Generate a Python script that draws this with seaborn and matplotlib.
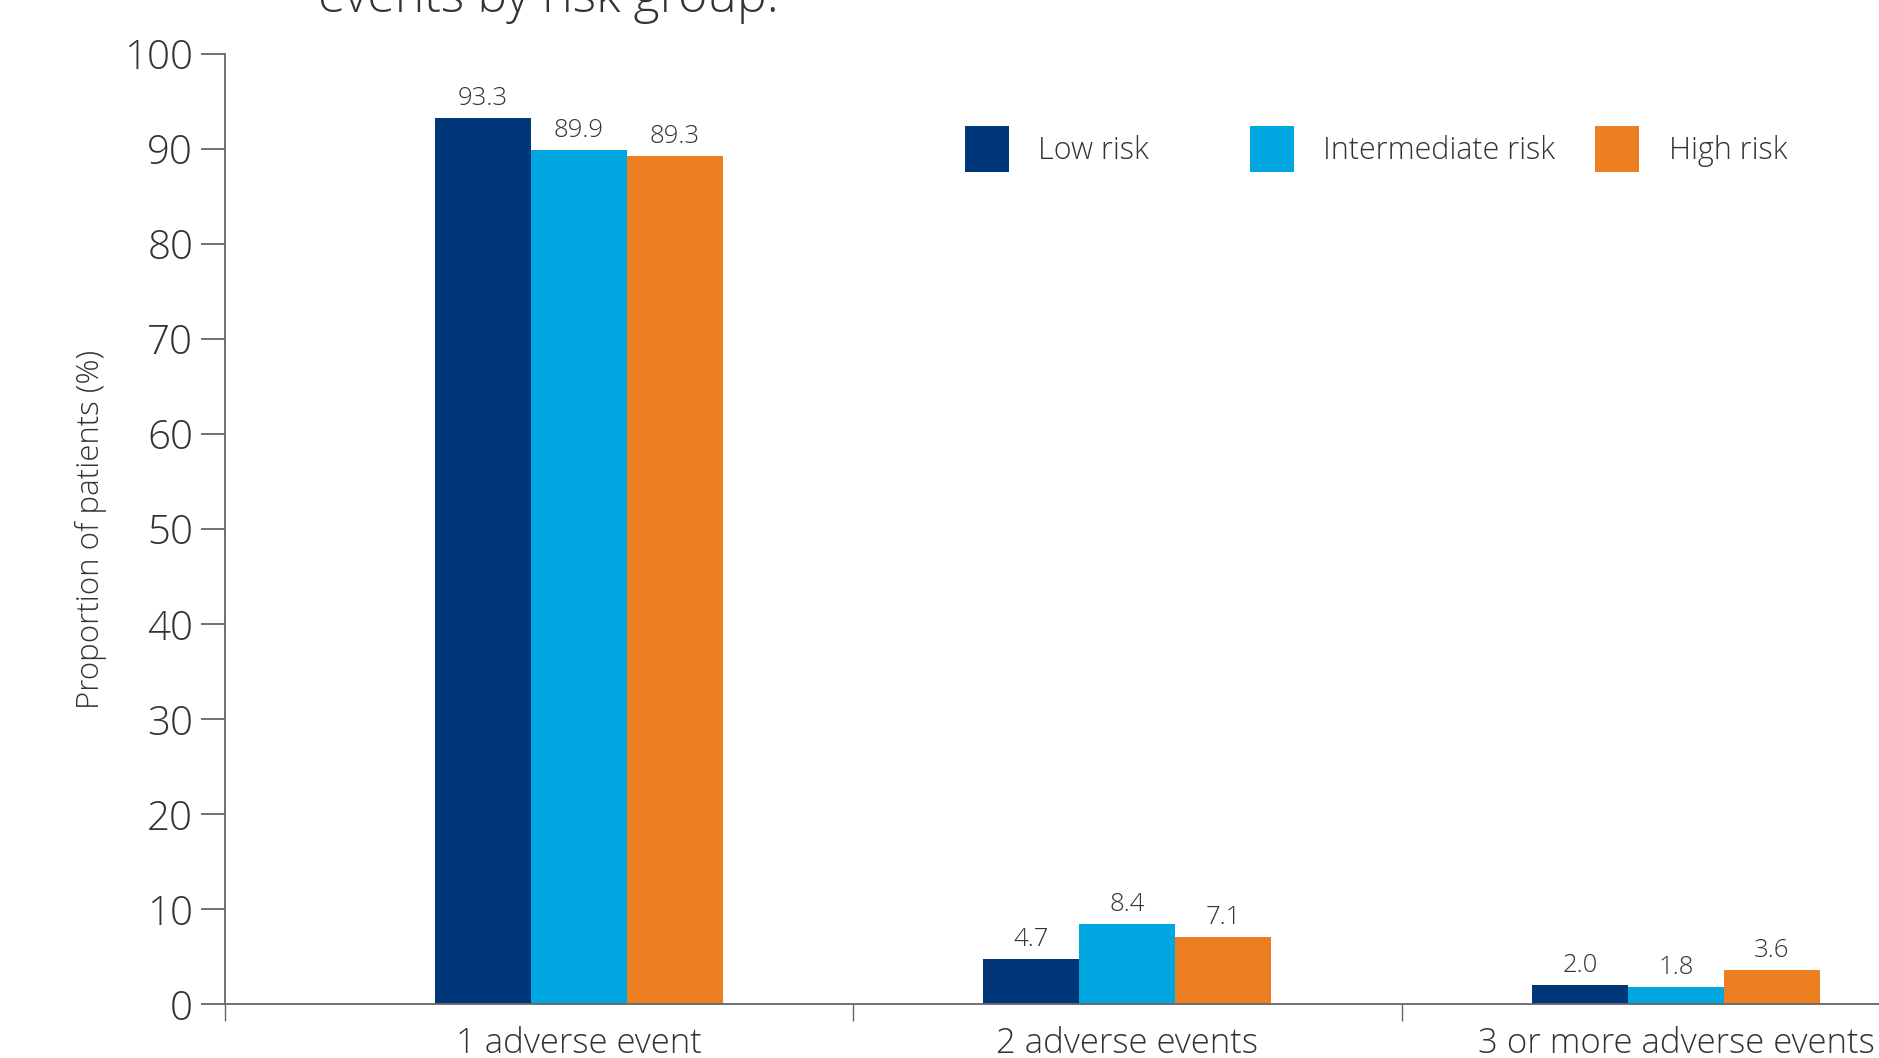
import matplotlib
matplotlib.use("Agg")
import matplotlib.pyplot as plt
from matplotlib.legend import Legend
import seaborn as sns
import pandas as pd

categories = ["1 adverse event", "2 adverse events", "3 or more adverse events"]
groups = ["Low risk", "Intermediate risk", "High risk"]
low_risk = [93.3, 4.7, 2.0]
intermediate_risk = [89.9, 8.4, 1.8]
high_risk = [89.3, 7.1, 3.6]
colors = ["#003778", "#00A6E0", "#EB7F22"]
yticks = [0, 10, 20, 30, 40, 50, 60, 70, 80, 90, 100]

rows = []
for g, vals in zip(groups, [low_risk, intermediate_risk, high_risk]):
    for c, v in zip(categories, vals):
        rows.append({"Category": c, "Group": g, "Value": v})
df = pd.DataFrame(rows)

sns.set_style("white")
plt.rcParams["font.family"] = ["Open Sans", "DejaVu Sans"]
plt.rcParams["font.weight"] = "light"
text_color = "#333333"
spine_color = "#666666"

fig = plt.figure(figsize=(18.79, 10.58), dpi=100)
ax = fig.add_axes([0.1198, 0.051, 0.8802, 0.898])

sns.barplot(data=df, x="Category", y="Value", hue="Group", order=categories,
            hue_order=groups, palette=colors, width=0.525, saturation=1,
            edgecolor="none", linewidth=0, ax=ax)

for cont in ax.containers:
    ax.bar_label(cont, fmt="%.1f", padding=5, fontsize=18.5, color=text_color, fontweight="light")

ax.set_ylim(0, 100)
ax.set_xlim(-0.645, 2.37)
ax.set_yticks(yticks)
ax.set_yticklabels([str(t) for t in yticks], fontsize=29, color=text_color, fontweight="light")
ax.tick_params(axis="y", direction="out", length=17, width=1.3, color=spine_color, pad=6, left=True)
ax.set_xticks(range(len(categories)))
ax.set_xticklabels(categories, fontsize=25, color=text_color, fontweight="light")
ax.tick_params(axis="x", which="major", length=0, pad=16)
ax.set_xticks([-0.645, 0.5, 1.5], minor=True)
ax.tick_params(axis="x", which="minor", direction="out", length=12, width=1.0, color=spine_color, bottom=True)

ax.set_xlabel("")
ax.set_ylabel("Proportion of patients (%)", fontsize=22.5, color=text_color, fontweight="light")
ax.yaxis.set_label_coords(-0.0715, 0.5)

for s in ["top", "right"]:
    ax.spines[s].set_visible(False)
for s in ["left", "bottom"]:
    ax.spines[s].set_color(spine_color)
    ax.spines[s].set_linewidth(1.3)

# legend: one entry per column position, as in the reference
handles, labels = ax.get_legend_handles_labels()
ax.get_legend().remove()
legend_x = [0.4472, 0.6197, 0.8284]
for h, l, xpos in zip(handles, labels, legend_x):
    leg = Legend(ax, [h], [l], loc="center left", bbox_to_anchor=(xpos, 0.9), frameon=False,
                 handlelength=1.45, handleheight=1.9, handletextpad=0.95,
                 borderpad=0, borderaxespad=0, labelcolor=text_color,
                 prop={"size": 22, "weight": "light"})
    ax.add_artist(leg)

fig.text(0.169, 0.989, "events by risk group.", fontsize=36, color=text_color,
         va="baseline", fontweight="light")

fig.savefig("out.png", dpi=100)
